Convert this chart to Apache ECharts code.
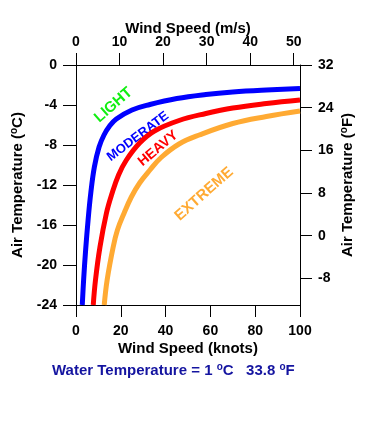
<!DOCTYPE html>
<html>
<head>
<meta charset="utf-8">
<script src="https://cdn.jsdelivr.net/npm/echarts@6/dist/echarts.min.js"></script>
<style>
  html, body { margin: 0; padding: 0; background: #fff; }
  #chart { width: 375px; height: 435px; }
</style>
</head>
<body>
<div id="chart"></div>
<script>
// boundaries between icing classes, wind speed in knots vs air temperature in C
var lightModKnots = [2.8, 3.4, 4.3, 5.4, 6.6, 8.2, 10.3, 12.5, 15, 18, 25, 33, 45, 58, 70, 85, 100];
var lightModTemp  = [-24, -21.5, -18.5, -15.5, -12.8, -10.2, -8.2, -7.0, -6.1, -5.4, -4.5, -3.95, -3.35, -2.95, -2.7, -2.5, -2.35];

var modHeavyKnots = [7.7, 8.7, 10.7, 13.6, 16, 19, 22.5, 28.4, 35, 46, 58, 70, 85, 100];
var modHeavyTemp  = [-24, -21.5, -18.2, -14.8, -12.9, -11.0, -9.5, -7.8, -6.6, -5.55, -4.85, -4.3, -3.85, -3.5];

var heavyExtKnots = [12.6, 13.9, 16.6, 18.5, 21.5, 24.7, 28.4, 33, 38, 46, 55, 70, 85, 100];
var heavyExtTemp  = [-24, -21.5, -18.2, -16.5, -14.8, -13.2, -11.8, -10.5, -9.25, -7.9, -7.0, -5.85, -5.15, -4.6];

var msTicks = [0, 10, 20, 30, 40, 50];
var fTicks = [-8, 0, 8, 16, 24, 32];

var KNOTS_PER_MS = 1.94384;

function pairs(xs, ys) {
  return xs.map(function (x, i) { return [x, ys[i]]; });
}

var font = 'Liberation Sans';
var labelStyle = { color: '#000', fontFamily: font, fontSize: 14, fontWeight: 'bold' };
var nameStyle = { color: '#000', fontFamily: font, fontSize: 15, fontWeight: 'bold' };
var supRich = {
  t: { color: '#000', fontFamily: font, fontSize: 15, fontWeight: 'bold' },
  sup: { color: '#000', fontFamily: font, fontSize: 10, fontWeight: 'bold', padding: [0, 0, 8, 0] }
};
var lineStyle = { color: '#000', width: 1 };

var chart = echarts.init(document.getElementById('chart'));
chart.setOption({
  backgroundColor: '#fff',
  animation: false,
  grid: { left: 76, right: 75, top: 65, bottom: 130 },
  xAxis: [
    {
      type: 'value', position: 'bottom', min: 0, max: 100, interval: 20,
      name: 'Wind Speed (knots)', nameLocation: 'middle', nameGap: 36, nameMoveOverlap: false,
      nameTextStyle: nameStyle,
      axisLine: { show: true, onZero: false, lineStyle: lineStyle },
      axisTick: { show: true, inside: false, length: 12, lineStyle: lineStyle },
      axisLabel: Object.assign({ margin: 19 }, labelStyle),
      splitLine: { show: false }
    },
    {
      type: 'value', position: 'top', min: 0, max: 100 / KNOTS_PER_MS,
      name: 'Wind Speed (m/s)', nameLocation: 'middle', nameGap: 29, nameMoveOverlap: false,
      nameTextStyle: nameStyle,
      axisLine: { show: true, onZero: false, lineStyle: lineStyle },
      axisTick: { show: true, inside: false, length: 12, lineStyle: lineStyle, customValues: msTicks },
      axisLabel: Object.assign({ margin: 16, customValues: msTicks }, labelStyle),
      splitLine: { show: false }
    }
  ],
  yAxis: [
    {
      type: 'value', position: 'left', min: -24, max: 0, interval: 4,
      name: '{t|Air Temperature (}{sup|o}{t|C)}', nameLocation: 'middle', nameGap: 49, nameMoveOverlap: false,
      nameTextStyle: Object.assign({ rich: supRich }, nameStyle),
      axisLine: { show: true, onZero: false, lineStyle: lineStyle },
      axisTick: { show: true, inside: false, length: 13, lineStyle: lineStyle },
      axisLabel: Object.assign({ margin: 19 }, labelStyle),
      splitLine: { show: false }
    },
    {
      type: 'value', position: 'right', min: -13, max: 32,
      name: '{t|Air Temperature (}{sup|o}{t|F)}', nameLocation: 'middle', nameGap: 39, nameMoveOverlap: false,
      nameTextStyle: Object.assign({ rich: supRich }, nameStyle),
      axisLine: { show: true, onZero: false, lineStyle: lineStyle },
      axisTick: { show: true, inside: false, length: 12, lineStyle: lineStyle, customValues: fTicks },
      axisLabel: Object.assign({ margin: 18, customValues: fTicks }, labelStyle),
      splitLine: { show: false }
    }
  ],
  series: [
    {
      type: 'line', xAxisIndex: 0, yAxisIndex: 0, data: pairs(lightModKnots, lightModTemp),
      smooth: 0.4, showSymbol: false, lineStyle: { color: '#0000ff', width: 5 }, z: 3
    },
    {
      type: 'line', xAxisIndex: 0, yAxisIndex: 0, data: pairs(modHeavyKnots, modHeavyTemp),
      smooth: 0.4, showSymbol: false, lineStyle: { color: '#ff0000', width: 5 }, z: 3
    },
    {
      type: 'line', xAxisIndex: 0, yAxisIndex: 0, data: pairs(heavyExtKnots, heavyExtTemp),
      smooth: 0.4, showSymbol: false, lineStyle: { color: '#ffaa33', width: 5 }, z: 3
    }
  ],
  graphic: [
    {
      type: 'text', x: 113.5, y: 105, rotation: 41 * Math.PI / 180,
      style: { text: 'LIGHT', fill: '#11ee11', font: 'bold 15px "Liberation Sans"', align: 'center', verticalAlign: 'middle' }
    },
    {
      type: 'text', x: 138, y: 136.5, rotation: 37 * Math.PI / 180,
      style: { text: 'MODERATE', fill: '#0000ff', font: 'bold 13px "Liberation Sans"', align: 'center', verticalAlign: 'middle' }
    },
    {
      type: 'text', x: 158, y: 148.5, rotation: 40 * Math.PI / 180,
      style: { text: 'HEAVY', fill: '#ff0000', font: 'bold 14px "Liberation Sans"', align: 'center', verticalAlign: 'middle' }
    },
    {
      type: 'text', x: 204, y: 194, rotation: 41.6 * Math.PI / 180,
      style: { text: 'EXTREME', fill: '#ffaa33', font: 'bold 15px "Liberation Sans"', align: 'center', verticalAlign: 'middle' }
    },
    {
      type: 'text', x: 52, y: 371,
      style: {
        text: '{t|Water Temperature = 1 }{s|o}{t|C   33.8 }{s|o}{t|F}',
        verticalAlign: 'middle',
        rich: {
          t: { fill: '#1414a0', fontFamily: font, fontSize: 15, fontWeight: 'bold' },
          s: { fill: '#1414a0', fontFamily: font, fontSize: 10, fontWeight: 'bold', padding: [0, 0, 8, 0] }
        }
      }
    }
  ]
});
</script>
</body>
</html>
